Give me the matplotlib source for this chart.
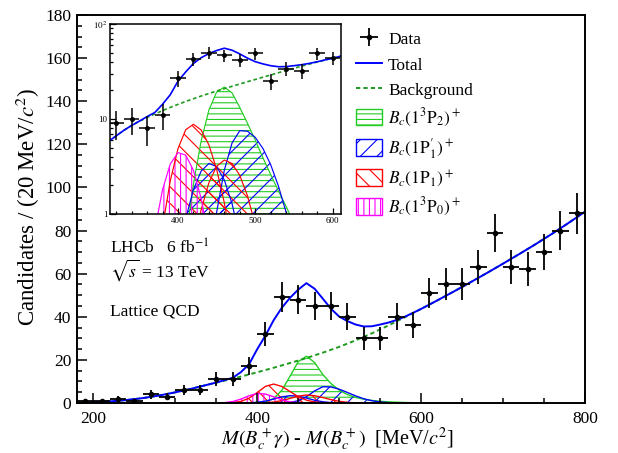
import numpy as np
import matplotlib
matplotlib.use('Agg')
import matplotlib.pyplot as plt
from matplotlib.patches import Patch
from matplotlib.lines import Line2D
from matplotlib.ticker import MultipleLocator, FixedLocator, NullFormatter

plt.rcParams['font.family'] = ['Liberation Serif', 'DejaVu Serif']
plt.rcParams['mathtext.fontset'] = 'stix'
plt.rcParams['hatch.linewidth'] = 0.8

# data, 20 MeV bins
bin_centres = np.arange(190, 800, 20)
candidates = [1, 1, 2, 1, 4, 3, 6, 6, 11, 11, 17, 32, 49, 48, 45, 45, 40, 30,
              30, 40, 36, 51, 55, 55, 63, 79, 63, 62, 70, 80, 88]

# inset uses bins shifted by 10 MeV
inset_centres = np.arange(320, 601, 20)
inset_candidates = [9, 10, 8, 11, 27, 43, 50, 47, 42, 49, 25, 34, 32, 49, 44]

# fit curves, read every 10 MeV
curve_mass = np.arange(180, 801, 10)
background = [0.15, 0.25, 0.35, 0.55, 0.75, 1.05, 1.35, 1.8, 2.25, 2.85, 3.45,
              4.2, 4.95, 5.8, 6.65, 7.6, 8.55, 9.45, 10.35, 11.3, 12.25, 13.25,
              14.25, 15.3, 16.35, 17.45, 18.55, 19.7, 20.85, 22.1, 23.35, 24.7,
              26.05, 27.55, 29.05, 30.7, 32.35, 34.15, 35.95, 37.85, 39.75,
              41.7, 43.65, 45.65, 47.65, 49.7, 51.75, 53.85, 55.95, 58.1,
              60.25, 62.45, 64.65, 66.9, 69.15, 71.45, 73.75, 76.15, 78.55,
              81.05, 83.55, 86.15, 88.75]
total = [0.15, 0.25, 0.35, 0.55, 0.75, 1.05, 1.35, 1.8, 2.25, 2.85, 3.45,
         4.2, 4.95, 5.8, 6.65, 7.6, 8.55, 9.5, 10.6, 11.7, 14.3, 18.0, 25.0,
         31.3, 38.4, 44.2, 48.8, 52.6, 55.6, 53.0, 48.4, 43.7, 40.1, 38.0,
         36.4, 35.5, 35.6, 36.4, 37.3, 38.5, 40.0, 41.8, 43.65, 45.65, 47.65,
         49.7, 51.75, 53.85, 55.95, 58.1, 60.25, 62.45, 64.65, 66.9, 69.15,
         71.45, 73.75, 76.15, 78.55, 81.05, 83.55, 86.15, 88.75]

# signal components
comp_mass = np.arange(350, 601, 10)
p2_comp = [0, 0, 0, 0, 0.015, 0.10, 0.53, 2.07, 5.9, 12.4, 19.2, 21.7, 18.8,
           13.2, 9.0, 6.0, 3.9, 2.6, 1.75, 1.2, 0.8, 0.55, 0.37, 0.25, 0.17, 0.11]
p1prime_low = [0, 0, 0, 0.02, 0.10, 0.34, 0.89, 1.81, 2.83, 3.40, 3.16, 2.28,
               1.28, 0.56, 0.19, 0.05, 0, 0, 0, 0, 0, 0, 0, 0, 0, 0]
p1prime_high = [0, 0, 0, 0, 0, 0, 0, 0, 0.04, 0.26, 1.04, 2.9, 5.6, 7.54, 7.43,
                6.41, 4.89, 3.30, 1.97, 1.04, 0.48, 0.20, 0.07, 0.02, 0, 0]
p1_low = [0, 0.03, 0.17, 0.73, 2.23, 4.88, 7.71, 8.79, 7.67, 5.34, 2.96, 1.31,
          0.46, 0.13, 0.03, 0, 0, 0, 0, 0, 0, 0, 0, 0, 0, 0]
p1_high = [0, 0, 0, 0, 0, 0.04, 0.14, 0.45, 1.11, 2.13, 3.18, 3.70, 3.40, 2.55,
           1.55, 0.77, 0.31, 0.10, 0.03, 0, 0, 0, 0, 0, 0, 0]
p0_comp = [0.03, 0.18, 0.68, 1.80, 3.36, 4.43, 4.17, 2.88, 1.46, 0.54, 0.15,
           0.03, 0, 0, 0, 0, 0, 0, 0, 0, 0, 0, 0, 0, 0, 0]

comp_labels = [r'$B_c(1^3\mathrm{P}_2)^+$', r"$B_c(1\mathrm{P}_1')^+$",
               r'$B_c(1\mathrm{P}_1)^+$', r'$B_c(1^3\mathrm{P}_0)^+$']
comp_colors = ['#22cc22', '#0000ff', '#ff0000', '#ff00ff']
comp_hatch = ['---', '//', '\\\\', '|||']
components = [(p2_comp, 0), (p1prime_low, 1), (p1prime_high, 1),
              (p1_low, 2), (p1_high, 2), (p0_comp, 3)]

bkg_color = '#1f9a1f'
total_color = '#0000ff'


def draw_fit(axis, lw, floor):
    for values, k in components:
        vals = np.clip(np.array(values, dtype=float), floor, None)
        axis.fill_between(comp_mass, floor, vals, facecolor='none',
                          edgecolor=comp_colors[k], hatch=comp_hatch[k],
                          linewidth=0, zorder=1)
        axis.plot(comp_mass, vals, color=comp_colors[k], lw=lw * 0.7, zorder=1.5)
    axis.plot(curve_mass, background, color=bkg_color, lw=lw,
              linestyle=(0, (2.2, 1.6)), zorder=2)
    axis.plot(curve_mass, total, color=total_color, lw=lw, zorder=2.5)


fig = plt.figure(figsize=(6.18, 4.53), dpi=100)
ax = fig.add_axes([77 / 618, 1 - 403 / 453, 508 / 618, 388 / 453])

draw_fit(ax, 1.4, 0)
data_h = ax.errorbar(bin_centres, candidates, xerr=10, yerr=np.sqrt(candidates),
                     fmt='o', ms=3, color='black', elinewidth=1.3, capsize=0,
                     zorder=3)

ax.set_xlim(180, 800)
ax.set_ylim(0, 180)
ax.xaxis.set_major_locator(MultipleLocator(200))
ax.xaxis.set_minor_locator(MultipleLocator(50))
ax.yaxis.set_major_locator(MultipleLocator(20))
ax.yaxis.set_minor_locator(MultipleLocator(5))
ax.tick_params(which='both', direction='in', width=1.1, labelsize=12.5)
ax.tick_params(which='major', length=7)
ax.tick_params(which='minor', length=3.5)
ax.tick_params(axis='y', pad=4)
ax.tick_params(axis='x', pad=5.5)
for s in ax.spines.values():
    s.set_linewidth(1.4)

fig.text(28 / 618, 1 - 207 / 453, r'Candidates / (20 MeV/$c^2$)', rotation=90,
         ha='center', va='center', fontsize=16.5)
fig.text(337 / 618, 1 - 445 / 453,
         r'$M(B_c^+\gamma)$ - $M(B_c^+)$  [MeV/$c^2$]',
         ha='center', va='baseline', fontsize=14.5)

fig.text(110 / 618, 1 - 239 / 453, r'LHCb   6 fb$^{-1}$', va='top', fontsize=12.5)
fig.text(110 / 618, 1 - 257 / 453, r'$\sqrt{s}$ = 13 TeV', va='top', fontsize=12.5)
fig.text(110 / 618, 1 - 303 / 453, 'Lattice QCD', va='top', fontsize=12.5)

# legend
handles = [data_h,
           Line2D([], [], color=total_color, lw=1.4),
           Line2D([], [], color=bkg_color, lw=1.4, linestyle=(0, (2.2, 1.6)))]
for k in range(4):
    handles.append(Patch(facecolor='white', edgecolor=comp_colors[k],
                         hatch=comp_hatch[k], linewidth=1))
labels = ['Data', 'Total', 'Background'] + comp_labels
fig.legend(handles, labels, loc='upper left',
           bbox_to_anchor=(356 / 618, 1 - 30 / 453), frameon=False,
           fontsize=12.5, borderpad=0, borderaxespad=0, handlelength=1.5,
           handleheight=1.1, handletextpad=0.35, labelspacing=0.42)

# inset, log scale
axin = fig.add_axes([110 / 618, 1 - 214 / 453, 231 / 618, 190 / 453])
draw_fit(axin, 1.2, 1e-3)
axin.errorbar(inset_centres, inset_candidates, xerr=10,
              yerr=np.sqrt(inset_candidates), fmt='o', ms=2.5, color='black',
              elinewidth=1.1, capsize=0, zorder=3)
axin.set_yscale('log')
axin.set_xlim(312, 611)
axin.set_ylim(1, 100)
axin.xaxis.set_major_locator(MultipleLocator(100))
axin.xaxis.set_minor_locator(MultipleLocator(20))
axin.yaxis.set_major_locator(FixedLocator([1, 10, 100]))
axin.set_yticklabels(['1', '10', r'$10^2$'])
axin.yaxis.set_minor_locator(FixedLocator([k * 10 ** e for e in (0, 1)
                                           for k in range(2, 10)]))
axin.yaxis.set_minor_formatter(NullFormatter())
axin.tick_params(which='both', direction='in', width=0.9, labelsize=6.5, pad=2)
axin.tick_params(which='major', length=4.5)
axin.tick_params(which='minor', length=2.5)
for s in axin.spines.values():
    s.set_linewidth(1.1)

fig.savefig('out.png', dpi=100)
